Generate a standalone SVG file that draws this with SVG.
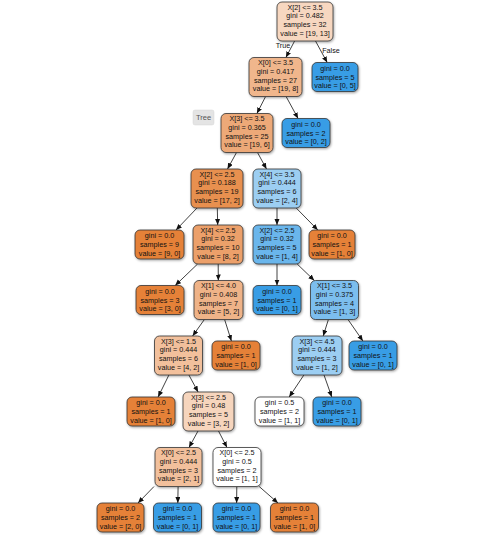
<svg xmlns="http://www.w3.org/2000/svg" width="480" height="535" viewBox="0 0 480 535">
<defs>
<style>
.n rect{stroke:#333;stroke-width:0.8;filter:url(#sh)}
.n text,.lbl{font-family:"Liberation Sans",Arial,sans-serif;font-size:7.2px;text-anchor:middle;fill:#111}
.o{fill:#e58139}
.b{fill:#399de5}
.w{fill:#ffffff}
.e line{stroke:#111;stroke-width:0.8;marker-end:url(#ah)}
</style>
<filter id="sh" x="-20%" y="-20%" width="140%" height="150%">
<feDropShadow dx="0.8" dy="1.2" stdDeviation="0.8" flood-color="#000" flood-opacity="0.35"/>
</filter>
<marker id="ah" markerUnits="userSpaceOnUse" markerWidth="7" markerHeight="6" refX="6" refY="2.5" orient="auto">
<path d="M0,0 L6,2.5 L0,5 z" fill="#111"/>
</marker>
</defs>
<rect width="480" height="535" fill="#ffffff"/>

<g id="connectors" class="e">
<line x1="294.6" y1="41" x2="285.9" y2="57.5"/>
<line x1="315.5" y1="41" x2="327.2" y2="62.5"/>
<line x1="265.6" y1="96.5" x2="256.9" y2="113.5"/>
<line x1="286.1" y1="96.5" x2="298.1" y2="118.5"/>
<line x1="236.5" y1="152.5" x2="227.5" y2="169"/>
<line x1="257.5" y1="152.5" x2="266.5" y2="169"/>
<line x1="197" y1="208" x2="176" y2="230"/>
<line x1="217.3" y1="208" x2="217.7" y2="225"/>
<line x1="277" y1="208" x2="277" y2="225"/>
<line x1="296.2" y1="208" x2="317.8" y2="230"/>
<line x1="197.6" y1="264" x2="175.2" y2="285.5"/>
<line x1="218.2" y1="264" x2="218.3" y2="280.5"/>
<line x1="277" y1="264" x2="277" y2="285.5"/>
<line x1="297.2" y1="264" x2="314.3" y2="280.5"/>
<line x1="204.4" y1="319.5" x2="192.6" y2="336"/>
<line x1="224.6" y1="319.5" x2="231.4" y2="341"/>
<line x1="328.4" y1="319.5" x2="323.2" y2="336"/>
<line x1="348" y1="319.5" x2="362.9" y2="341"/>
<line x1="168.9" y1="375" x2="158.1" y2="397"/>
<line x1="188.9" y1="375" x2="198.1" y2="392"/>
<line x1="303.9" y1="375" x2="289.2" y2="397"/>
<line x1="324" y1="375" x2="331.8" y2="397"/>
<line x1="198" y1="431" x2="189" y2="447.5"/>
<line x1="218.5" y1="431" x2="227" y2="447.5"/>
<line x1="154" y1="486.5" x2="138" y2="503"/>
<line x1="178.1" y1="486.5" x2="177.8" y2="503"/>
<line x1="236.8" y1="486.5" x2="236.6" y2="503"/>
<line x1="259.2" y1="486.5" x2="278" y2="503"/>
<text class="lbl" x="283" y="48">True</text>
<text class="lbl" x="331" y="52.5">False</text>
</g>

<g id="tree-tab">
<rect x="193" y="110" width="21" height="15" rx="2" fill="#e4e4e4" stroke="#d6d6d6" stroke-width="0.5"/>
<text x="203.5" y="120" style="font-family:'Liberation Sans',Arial,sans-serif;font-size:7.5px;text-anchor:middle;fill:#555">Tree</text>
</g>

<g id="n0" class="n"><rect x="277" y="2" width="56" height="39" rx="5" fill="#f7d7c0"/>
<text><tspan x="305" y="9.5">X[2] &lt;= 3.5</tspan><tspan x="305" y="18.3">gini = 0.482</tspan><tspan x="305" y="27.1">samples = 32</tspan><tspan x="305" y="35.9">value = [19, 13]</tspan></text></g>

<g id="n1" class="n"><rect x="249" y="57.5" width="53" height="39" rx="5" fill="#f0b68c"/>
<text><tspan x="275.5" y="65">X[0] &lt;= 3.5</tspan><tspan x="275.5" y="73.8">gini = 0.417</tspan><tspan x="275.5" y="82.6">samples = 27</tspan><tspan x="275.5" y="91.4">value = [19, 8]</tspan></text></g>

<g id="n2" class="n"><rect class="b" x="312" y="62.5" width="46" height="29" rx="5"/>
<text><tspan x="335" y="70.8">gini = 0.0</tspan><tspan x="335" y="79.6">samples = 5</tspan><tspan x="335" y="88.4">value = [0, 5]</tspan></text></g>

<g id="n3" class="n"><rect x="221" y="113.5" width="52" height="39" rx="5" fill="#eda978"/>
<text><tspan x="247" y="121">X[3] &lt;= 3.5</tspan><tspan x="247" y="129.8">gini = 0.365</tspan><tspan x="247" y="138.6">samples = 25</tspan><tspan x="247" y="147.4">value = [19, 6]</tspan></text></g>

<g id="n4" class="n"><rect class="b" x="282" y="118.5" width="48" height="29" rx="5"/>
<text><tspan x="306" y="126.8">gini = 0.0</tspan><tspan x="306" y="135.6">samples = 2</tspan><tspan x="306" y="144.4">value = [0, 2]</tspan></text></g>

<g id="n5" class="n"><rect x="191" y="169" width="52" height="39" rx="5" fill="#e89050"/>
<text><tspan x="217" y="176.5">X[2] &lt;= 2.5</tspan><tspan x="217" y="185.3">gini = 0.188</tspan><tspan x="217" y="194.1">samples = 19</tspan><tspan x="217" y="202.9">value = [17, 2]</tspan></text></g>

<g id="n6" class="n"><rect x="253" y="169" width="48" height="39" rx="5" fill="#9ccef2"/>
<text><tspan x="277" y="176.5">X[4] &lt;= 3.5</tspan><tspan x="277" y="185.3">gini = 0.444</tspan><tspan x="277" y="194.1">samples = 6</tspan><tspan x="277" y="202.9">value = [2, 4]</tspan></text></g>

<g id="n7" class="n"><rect class="o" x="135" y="230" width="49" height="29" rx="5"/>
<text><tspan x="159.5" y="238.3">gini = 0.0</tspan><tspan x="159.5" y="247.1">samples = 9</tspan><tspan x="159.5" y="255.9">value = [9, 0]</tspan></text></g>

<g id="n8" class="n"><rect x="193" y="225" width="50" height="39" rx="5" fill="#eca06b"/>
<text><tspan x="218" y="232.5">X[4] &lt;= 2.5</tspan><tspan x="218" y="241.3">gini = 0.32</tspan><tspan x="218" y="250.1">samples = 10</tspan><tspan x="218" y="258.9">value = [8, 2]</tspan></text></g>

<g id="n9" class="n"><rect x="253" y="225" width="48" height="39" rx="5" fill="#6bb6ec"/>
<text><tspan x="277" y="232.5">X[2] &lt;= 2.5</tspan><tspan x="277" y="241.3">gini = 0.32</tspan><tspan x="277" y="250.1">samples = 5</tspan><tspan x="277" y="258.9">value = [1, 4]</tspan></text></g>

<g id="n10" class="n"><rect class="o" x="309" y="230" width="46" height="29" rx="5"/>
<text><tspan x="332" y="238.3">gini = 0.0</tspan><tspan x="332" y="247.1">samples = 1</tspan><tspan x="332" y="255.9">value = [1, 0]</tspan></text></g>

<g id="n11" class="n"><rect class="o" x="136" y="285.5" width="48" height="29" rx="5"/>
<text><tspan x="160" y="293.8">gini = 0.0</tspan><tspan x="160" y="302.6">samples = 3</tspan><tspan x="160" y="311.4">value = [3, 0]</tspan></text></g>

<g id="n12" class="n"><rect x="194" y="280.5" width="49" height="39" rx="5" fill="#efb388"/>
<text><tspan x="218.5" y="288">X[1] &lt;= 4.0</tspan><tspan x="218.5" y="296.8">gini = 0.408</tspan><tspan x="218.5" y="305.6">samples = 7</tspan><tspan x="218.5" y="314.4">value = [5, 2]</tspan></text></g>

<g id="n13" class="n"><rect class="b" x="253" y="285.5" width="48" height="29" rx="5"/>
<text><tspan x="277" y="293.8">gini = 0.0</tspan><tspan x="277" y="302.6">samples = 1</tspan><tspan x="277" y="311.4">value = [0, 1]</tspan></text></g>

<g id="n14" class="n"><rect x="310.5" y="280.5" width="48" height="39" rx="5" fill="#7bbeee"/>
<text><tspan x="334.5" y="288">X[1] &lt;= 3.5</tspan><tspan x="334.5" y="296.8">gini = 0.375</tspan><tspan x="334.5" y="305.6">samples = 4</tspan><tspan x="334.5" y="314.4">value = [1, 3]</tspan></text></g>

<g id="n15" class="n"><rect x="154.5" y="336" width="48" height="39" rx="5" fill="#f2c09c"/>
<text><tspan x="178.5" y="343.5">X[3] &lt;= 1.5</tspan><tspan x="178.5" y="352.3">gini = 0.444</tspan><tspan x="178.5" y="361.1">samples = 6</tspan><tspan x="178.5" y="369.9">value = [4, 2]</tspan></text></g>

<g id="n16" class="n"><rect class="o" x="212" y="341" width="48" height="29" rx="5"/>
<text><tspan x="236" y="349.3">gini = 0.0</tspan><tspan x="236" y="358.1">samples = 1</tspan><tspan x="236" y="366.9">value = [1, 0]</tspan></text></g>

<g id="n17" class="n"><rect x="292" y="336" width="50" height="39" rx="5" fill="#9ccef2"/>
<text><tspan x="317" y="343.5">X[3] &lt;= 4.5</tspan><tspan x="317" y="352.3">gini = 0.444</tspan><tspan x="317" y="361.1">samples = 3</tspan><tspan x="317" y="369.9">value = [1, 2]</tspan></text></g>

<g id="n18" class="n"><rect class="b" x="349" y="341" width="48" height="29" rx="5"/>
<text><tspan x="373" y="349.3">gini = 0.0</tspan><tspan x="373" y="358.1">samples = 1</tspan><tspan x="373" y="366.9">value = [0, 1]</tspan></text></g>

<g id="n19" class="n"><rect class="o" x="127" y="397" width="48" height="29" rx="5"/>
<text><tspan x="151" y="405.3">gini = 0.0</tspan><tspan x="151" y="414.1">samples = 1</tspan><tspan x="151" y="422.9">value = [1, 0]</tspan></text></g>

<g id="n20" class="n"><rect x="183" y="392" width="51" height="39" rx="5" fill="#f6d5bd"/>
<text><tspan x="208.5" y="399.5">X[3] &lt;= 2.5</tspan><tspan x="208.5" y="408.3">gini = 0.48</tspan><tspan x="208.5" y="417.1">samples = 5</tspan><tspan x="208.5" y="425.9">value = [3, 2]</tspan></text></g>

<g id="n21" class="n"><rect class="w" x="255" y="397" width="49" height="29" rx="5"/>
<text><tspan x="279.5" y="405.3">gini = 0.5</tspan><tspan x="279.5" y="414.1">samples = 2</tspan><tspan x="279.5" y="422.9">value = [1, 1]</tspan></text></g>

<g id="n22" class="n"><rect class="b" x="313" y="397" width="48" height="29" rx="5"/>
<text><tspan x="337" y="405.3">gini = 0.0</tspan><tspan x="337" y="414.1">samples = 1</tspan><tspan x="337" y="422.9">value = [0, 1]</tspan></text></g>

<g id="n23" class="n"><rect x="155" y="447.5" width="47" height="39" rx="5" fill="#f2c09c"/>
<text><tspan x="178.5" y="455">X[0] &lt;= 2.5</tspan><tspan x="178.5" y="463.8">gini = 0.444</tspan><tspan x="178.5" y="472.6">samples = 3</tspan><tspan x="178.5" y="481.4">value = [2, 1]</tspan></text></g>

<g id="n24" class="n"><rect class="w" x="213" y="447.5" width="48" height="39" rx="5"/>
<text><tspan x="237" y="455">X[0] &lt;= 2.5</tspan><tspan x="237" y="463.8">gini = 0.5</tspan><tspan x="237" y="472.6">samples = 2</tspan><tspan x="237" y="481.4">value = [1, 1]</tspan></text></g>

<g id="n25" class="n"><rect class="o" x="97" y="503" width="47" height="29" rx="5"/>
<text><tspan x="120.5" y="511.3">gini = 0.0</tspan><tspan x="120.5" y="520.1">samples = 2</tspan><tspan x="120.5" y="528.9">value = [2, 0]</tspan></text></g>

<g id="n26" class="n"><rect class="b" x="153.5" y="503" width="48" height="29" rx="5"/>
<text><tspan x="177.5" y="511.3">gini = 0.0</tspan><tspan x="177.5" y="520.1">samples = 1</tspan><tspan x="177.5" y="528.9">value = [0, 1]</tspan></text></g>

<g id="n27" class="n"><rect class="b" x="213" y="503" width="47" height="29" rx="5"/>
<text><tspan x="236.5" y="511.3">gini = 0.0</tspan><tspan x="236.5" y="520.1">samples = 1</tspan><tspan x="236.5" y="528.9">value = [0, 1]</tspan></text></g>

<g id="n28" class="n"><rect class="o" x="270.5" y="503" width="48" height="29" rx="5"/>
<text><tspan x="294.5" y="511.3">gini = 0.0</tspan><tspan x="294.5" y="520.1">samples = 1</tspan><tspan x="294.5" y="528.9">value = [1, 0]</tspan></text></g>
</svg>
